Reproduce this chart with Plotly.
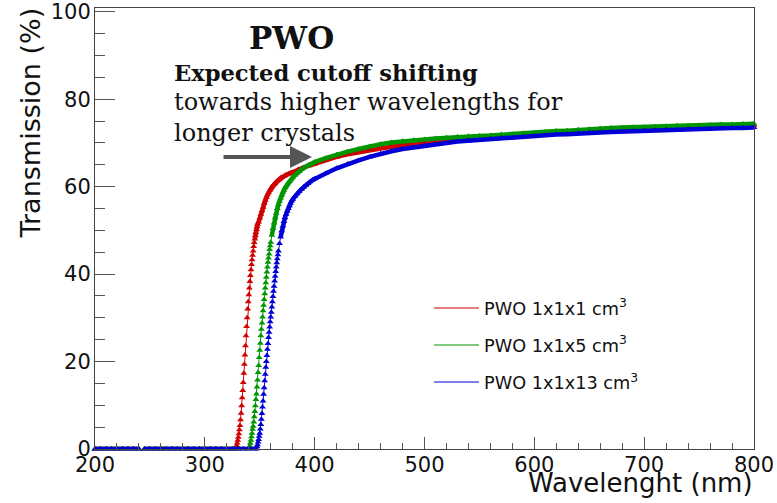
import plotly.graph_objects as go

# Canvas and plot-area geometry (pixels)
W, H = 777, 503
ML, MR, MT, MB = 95, 23, 8, 54
PW, PH = W - ML - MR, H - MT - MB

# Transmission curves: (first wavelength, step in nm, transmission values in %)
red_segments = [
    (200, 5, [0, 0, 0, 0, 0, 0, 0, 0, 0]),
    (245, 5, [0, 0, 0, 0, 0, 0, 0, 0, 0, 0, 0, 0, 0, 0, 0, 0, 0]),
    (328.0, 0.5, [0.0, 0.3, 0.8, 1.4, 2.0, 2.7, 3.5, 4.4, 5.4, 6.7, 8.2, 9.9, 11.7, 13.4,
                  15.2, 17.3, 19.4, 21.5, 23.6, 25.9, 28.0, 30.0, 32.0, 33.7, 35.3, 36.8,
                  38.3, 39.7, 41.0, 42.2, 43.3, 44.3, 45.3, 46.3, 47.2, 48.0, 48.8, 49.5,
                  50.2, 50.8, 51.4]),
    (349, 1, [51.9, 52.8, 53.7, 54.5, 55.3, 56.2, 56.9, 57.5, 58.1, 58.6, 59.1, 59.5,
              59.9, 60.2, 60.5, 60.8, 61.1, 61.3, 61.5, 61.7, 61.9, 62.1]),
    (372, 2, [62.4, 62.7, 62.9, 63.1, 63.3]),
    (385, 5, [63.9, 64.4, 64.8, 65.2]),
    (410, 10, [66.1, 66.8, 67.4, 67.9, 68.3, 68.7, 69.1, 69.5, 69.9, 70.2,
               70.5, 70.7, 70.9, 71.1, 71.3, 71.4, 71.6, 71.7, 71.9, 72.0,
               72.3, 72.4, 72.6, 72.7, 72.9, 73.0, 73.1, 73.2, 73.3, 73.4,
               73.5, 73.5, 73.6, 73.7, 73.7, 73.8, 73.9, 73.9, 74.0, 74.0]),
]

green_segments = [
    (200, 5, [0, 0, 0, 0, 0, 0, 0, 0, 0]),
    (245, 5, [0, 0, 0, 0, 0, 0, 0, 0, 0, 0, 0, 0, 0, 0, 0, 0, 0, 0, 0]),
    (340.0, 0.5, [0.0, 0.3, 0.7, 1.3, 2.0, 2.8, 3.6, 4.5, 5.2, 6.2, 7.4, 8.6, 9.9, 11.3,
                  12.6, 14.2, 15.8, 17.5, 19.1, 20.9, 22.6, 24.2, 25.9, 27.4, 28.8, 30.2,
                  31.6, 32.9, 34.2, 35.5, 36.8, 38.0, 39.3, 40.5, 41.6, 42.7, 43.7, 44.6,
                  45.6, 46.5, 47.3]),
    (361, 1, [48.9, 50.4, 51.7, 52.9, 53.9, 55.0, 55.9, 56.7, 57.4, 58.1, 58.7, 59.2,
              59.7, 60.1, 60.5, 60.9, 61.2, 61.5, 61.8, 62.1]),
    (382, 2, [62.6, 63.1, 63.5, 63.9, 64.3]),
    (395, 5, [65.0, 65.6]),
    (410, 10, [66.5, 67.3, 68.0, 68.6, 69.2, 69.7, 70.1, 70.4, 70.6, 70.8,
               71.0, 71.2, 71.4, 71.5, 71.6, 71.7, 71.9, 72.0, 72.2, 72.3,
               72.5, 72.7, 72.8, 73.0, 73.1, 73.3, 73.4, 73.5, 73.6, 73.6,
               73.7, 73.8, 73.9, 73.9, 74.0, 74.1, 74.2, 74.2, 74.3, 74.4]),
]

blue_segments = [
    (200, 5, [0, 0, 0, 0, 0, 0, 0, 0, 0]),
    (245, 5, [0, 0, 0, 0, 0, 0, 0, 0, 0, 0, 0, 0, 0, 0, 0, 0, 0, 0, 0, 0, 0]),
    (347.0, 0.5, [0.0, 0.5, 1.0, 1.6, 2.2, 2.9, 3.6, 4.6, 5.6, 6.8, 8.1, 9.6, 11.0, 12.5,
                  14.0, 15.6, 17.1, 18.7, 20.0, 21.4, 22.8, 24.1, 25.5, 26.7, 27.9, 29.1,
                  30.2, 31.3, 32.5, 33.7, 34.9, 36.1, 37.2, 38.4, 39.5, 40.6, 41.6, 42.6,
                  43.5, 44.4, 45.3]),
    (368, 1, [47.0, 48.5, 49.9, 51.0, 52.0, 52.9, 53.7, 54.4, 55.0, 55.6, 56.2, 56.7, 57.1]),
    (382, 2, [57.8, 58.4, 58.9, 59.4, 59.9, 60.3, 60.7, 61.1, 61.5, 61.8]),
    (410, 10, [63.0, 64.2, 65.2, 66.0, 66.8, 67.5, 68.1, 68.6, 69.0, 69.4,
               69.7, 70.0, 70.3, 70.5, 70.7, 70.9, 71.1, 71.2, 71.4, 71.6,
               71.7, 71.9, 72.0, 72.2, 72.3, 72.4, 72.5, 72.6, 72.7, 72.8,
               72.9, 73.0, 73.0, 73.1, 73.2, 73.2, 73.3, 73.4, 73.4, 73.5]),
]

series_names = ["PWO 1x1x1 cm<sup>3</sup>", "PWO 1x1x5 cm<sup>3</sup>", "PWO 1x1x13 cm<sup>3</sup>"]
series_colors = ["#d00000", "#009600", "#0000d6"]
x_ticks = [200, 300, 400, 500, 600, 700, 800]
y_ticks = [0, 20, 40, 60, 80, 100]


def build(segments):
    """Expand segments into wavelength / transmission lists; gap after the first one."""
    lam, val = [], []
    for k, (start, step, values) in enumerate(segments):
        for i, v in enumerate(values):
            lam.append(round(start + i * step, 2))
            val.append(v)
        if k == 0:
            lam.append(None)
            val.append(None)
    return lam, val


def px(xp):
    return (xp - ML) / PW


def py(yp):
    return (H - MB - yp) / PH


fig = go.Figure()

for segs, color in zip([red_segments, green_segments, blue_segments], series_colors):
    lam, val = build(segs)
    # where the measured points sit densely (baseline and plateau) they merge into a band
    band = [v if (v is not None and (v == 0 or v >= 48)) else None for v in val]
    fig.add_trace(go.Scatter(
        x=lam, y=band, mode="lines", connectgaps=False,
        line=dict(color=color, width=4.5), showlegend=False,
        hoverinfo="skip", cliponaxis=False))
    fig.add_trace(go.Scatter(
        x=lam, y=val, mode="lines+markers",
        line=dict(color=color, width=1),
        marker=dict(symbol="triangle-up", size=6, color=color, line=dict(width=0)),
        showlegend=False, cliponaxis=False, connectgaps=False))

for name, color in zip(series_names, series_colors):
    fig.add_trace(go.Scatter(
        x=[None], y=[None], mode="lines", name=name, legendgroup=name,
        line=dict(color=color, width=1)))

axis_common = dict(
    showline=True, linecolor="#444", linewidth=1, mirror=True,
    showgrid=False, zeroline=False, ticks="inside", tickcolor="#555",
    tickfont=dict(family="DejaVu Sans", size=21, color="#111"),
    ticklabeloverflow="allow", automargin=False,
)

fig.update_xaxes(
    range=[200, 800], tickvals=x_ticks, ticklen=12, tickwidth=1,
    minor=dict(dtick=20, ticks="inside", ticklen=6, tickcolor="#555"),
    ticklabelstandoff=-3,
    **axis_common)
fig.update_yaxes(
    range=[0, 100.85], tickvals=y_ticks, ticklen=20, tickwidth=1,
    minor=dict(dtick=5, ticks="inside", ticklen=10, tickcolor="#555"),
    ticklabelstandoff=-1,
    **axis_common)

serif = "DejaVu Serif"
annotations = [
    dict(x=px(291), y=py(38), text="<b>PWO</b>", xanchor="center", yanchor="middle",
         font=dict(family=serif, size=31, color="#111")),
    dict(x=px(172), y=py(73), text="<b>Expected cutoff shifting</b>", xanchor="left",
         yanchor="middle", font=dict(family=serif, size=22.6, color="#111")),
    dict(x=px(172), y=py(102), text="towards higher wavelengths for", xanchor="left",
         yanchor="middle", font=dict(family=serif, size=24, color="#111")),
    dict(x=px(172), y=py(133), text="longer crystals", xanchor="left",
         yanchor="middle", font=dict(family=serif, size=24, color="#111")),
    dict(x=px(312), y=py(157), ax=-90, ay=0, text="", showarrow=True,
         arrowhead=2, arrowsize=1.1, arrowwidth=4, arrowcolor="#555"),
    dict(x=px(755), y=py(483), text="Wavelenght (nm)", xanchor="right", yanchor="middle",
         font=dict(family="DejaVu Sans", size=26, color="#111")),
    dict(x=px(30), y=py(6), text="Transmission (%)", textangle=-90, xanchor="center",
         yanchor="top", font=dict(family="DejaVu Sans", size=27, color="#111")),
]
for a in annotations:
    a.setdefault("showarrow", False)
    a.setdefault("xref", "paper")
    a.setdefault("yref", "paper")
    fig.add_annotation(**a)

fig.update_layout(
    width=W, height=H, autosize=False,
    margin=dict(l=ML, r=MR, t=MT, b=MB, autoexpand=False),
    paper_bgcolor="white", plot_bgcolor="white",
    legend=dict(x=px(429), y=py(290), xanchor="left", yanchor="top",
                bgcolor="rgba(0,0,0,0)", borderwidth=0, itemwidth=45,
                tracegroupgap=11,
                font=dict(family="DejaVu Sans", size=17.7, color="#111")),
)

fig.write_html("out.html")
